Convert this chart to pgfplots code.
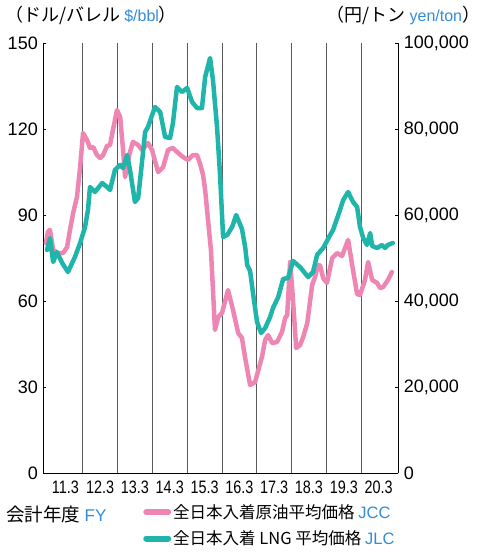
\documentclass[border=0pt]{standalone}
\usepackage{fontspec}
\setmainfont{Liberation Sans}
\newfontfamily\jp{Noto Sans CJK JP}
\newfontfamily\cond{Liberation Sans}[FakeStretch=0.8]
\usepackage{pgfplots}
\pgfplotsset{compat=1.18}
\definecolor{jcc}{RGB}{238,134,179}
\definecolor{lng}{RGB}{32,181,170}
\definecolor{eng}{RGB}{50,140,215}
\definecolor{gridc}{RGB}{90,90,90}
\pgfplotsset{
  common/.style={
    width=355bp, height=430bp, scale only axis,
    at={(0,0)}, anchor=south west,
    xmin=-1.6, xmax=120.8,
    /pgf/number format/assume math mode=true,
    /pgf/number format/fixed,
    /pgf/number format/1000 sep={,},
    scaled y ticks=false,
    tick align=inside,
    major tick length=3bp,
    axis line style={line width=1bp, black},
    tick style={line width=0.8bp, black},
    y tick label style={font=\fontsize{18bp}{18bp}\selectfont},
  }
}
\begin{document}
\begin{tikzpicture}[x=1bp,y=1bp]
\begin{axis}[common,
  axis y line*=left, axis x line*=bottom,
  ymin=0, ymax=150, ytick={0,30,...,150},
  xtick={6,18,...,114},
  xticklabels={11.3,12.3,13.3,14.3,15.3,16.3,17.3,18.3,19.3,20.3},
  x tick label style={font=\cond\fontsize{18bp}{18bp}\selectfont, yshift=-4bp},
  x tick style={draw=none},
  extra x ticks={12,24,...,108},
  extra x tick labels={},
  extra x tick style={grid=major, major grid style={gridc, line width=0.9bp}, tick style={draw=none}},
  y tick label style={xshift=-2bp},
]
\addplot[color=jcc, line width=4.5bp, line join=round, line cap=round] coordinates {
(-0.7,80.2)(0.0,84.1)(0.7,84.8)(1.8,77.8)(3.5,76.7)(5.2,76.7)(6.6,78.8)(7.6,84.8)(8.7,90.7)(10.0,96.3)(11.1,106.7)(12.1,118.6)(13.5,116.1)(14.5,113.4)(15.6,113.7)(16.9,110.9)(18.0,109.9)(19.0,110.9)(20.4,114.1)(21.4,114.4)(22.4,119.6)(23.8,126.6)(24.9,124.2)(25.9,112.7)(26.6,103.2)(28.0,110.9)(29.3,115.5)(31.1,114.4)(32.4,112.7)(34.5,115.1)(35.9,112.7)(37.0,108.5)(38.0,105.0)(39.7,106.7)(41.4,112.7)(43.1,113.4)(44.5,112.0)(46.6,110.2)(48.3,109.2)(50.0,110.9)(51.4,110.9)(52.4,108.1)(53.5,103.9)(54.2,98.7)(55.2,88.2)(56.2,77.8)(56.9,63.8)(57.6,49.9)(58.7,54.4)(60.0,55.8)(62.1,63.8)(63.8,56.9)(65.6,48.8)(66.9,47.1)(68.0,40.1)(69.7,30.7)(71.4,31.7)(73.8,40.5)(74.9,46.4)(75.9,48.1)(77.3,45.3)(79.0,45.7)(80.7,49.2)(81.8,54.1)(82.5,55.1)(83.5,73.6)(84.5,60.3)(85.6,43.6)(86.9,44.6)(88.0,47.4)(89.4,52.3)(91.1,65.6)(92.1,68.4)(93.1,72.5)(93.8,72.5)(94.9,68.0)(96.2,66.3)(98.0,75.0)(99.7,76.7)(101.4,75.7)(103.5,81.3)(104.9,72.5)(106.6,62.4)(107.6,62.1)(109.3,67.3)(110.4,73.6)(111.8,67.3)(113.5,66.3)(114.5,64.5)(115.6,64.9)(117.2,67.3)(118.6,70.1)
};
\end{axis}
\begin{axis}[common,
  axis y line*=right, axis x line=none,
  ymin=0, ymax=100000, ytick={0,20000,...,100000},
  y tick label style={xshift=2bp},
  legend style={at={(axis description cs:0.281,-0.068)}, anchor=north west, draw=none, fill=none, inner sep=0pt,
    font=\jp\fontsize{16.5bp}{16.5bp}\selectfont, row sep=7bp,
    /tikz/every even column/.append style={column sep=2bp}},
  legend cell align=left,
  legend image code/.code={\draw[line width=6bp, line cap=round, #1] (0bp,0bp) -- (22bp,0bp);},
]
\addlegendimage{color=jcc}
\addlegendentry{全日本入着原油平均価格\ {\fontspec{Liberation Sans}\color{eng}JCC}}
\addplot[color=lng, line width=4.5bp, line join=round, line cap=round] coordinates {
(-0.3,51860)(0.7,54650)(1.8,49070)(3.1,51400)(4.9,48840)(6.9,46740)(9.3,50230)(11.1,53490)(12.8,57210)(13.8,61160)(14.5,66510)(16.2,65350)(18.7,67440)(20.4,66510)(21.4,65810)(23.1,70470)(24.9,71630)(25.9,70930)(27.3,73950)(28.3,70470)(30.0,63020)(31.1,63950)(32.4,72090)(33.5,79300)(34.5,80470)(36.9,85120)(38.7,83950)(40.4,78140)(42.1,77910)(43.1,81400)(44.5,89770)(46.2,88600)(48.0,89540)(49.7,86280)(51.4,84880)(53.1,84880)(54.2,92090)(55.9,96510)(56.9,91400)(58.3,80470)(59.3,69770)(60.4,54880)(61.8,55350)(63.5,57210)(64.9,60000)(66.9,56740)(68.0,52560)(68.7,48370)(69.7,46980)(70.7,41860)(72.1,35120)(73.5,32560)(74.9,33720)(76.6,36280)(77.6,38370)(79.4,40930)(81.1,45120)(82.8,45350)(84.5,49300)(86.9,47910)(89.7,45580)(91.4,46740)(92.8,50700)(94.9,52330)(97.3,55350)(98.3,56510)(100.7,61160)(101.8,63490)(103.5,65350)(105.2,63020)(106.6,61860)(107.6,57210)(108.7,54650)(110.0,53020)(111.1,55810)(111.8,52790)(113.5,52330)(115.2,53020)(116.2,52330)(117.2,53020)(118.9,53490)
};
\addlegendentry{全日本入着 LNG 平均価格\ {\fontspec{Liberation Sans}\color{eng}JLC}}
\end{axis}
\node[anchor=base west, inner sep=0pt, font=\jp\fontsize{18bp}{18bp}\selectfont] at (-38.3bp,451bp) {（ドル/バレル {\fontspec{Liberation Sans}\fontsize{16bp}{16bp}\selectfont\color{eng}\$/bbl}）};
\node[anchor=base east, inner sep=0pt, font=\jp\fontsize{18bp}{18bp}\selectfont] at (437bp,451bp) {（円/トン {\fontspec{Liberation Sans}\fontsize{16bp}{16bp}\selectfont\color{eng}yen/ton}）};
\node[anchor=base west, inner sep=0pt, font=\jp\fontsize{18.5bp}{18.5bp}\selectfont] at (-37bp,-48bp) {会計年度 {\fontspec{Liberation Sans}\fontsize{17bp}{17bp}\selectfont\color{eng}FY}};
\pgfresetboundingbox
\path (-43.3bp,-80bp) rectangle (437.7bp,473bp);
\end{tikzpicture}
\end{document}
